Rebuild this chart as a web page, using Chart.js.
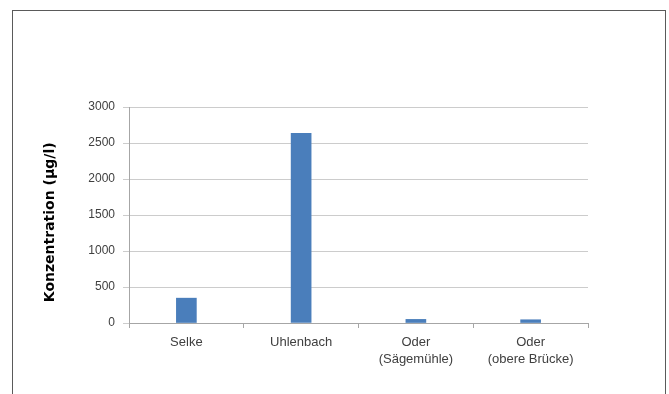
<!DOCTYPE html>
<html>
<head>
<meta charset="utf-8">
<script src="https://cdn.jsdelivr.net/npm/chart.js@4/dist/chart.umd.min.js"></script>
<style>
  html, body { margin: 0; padding: 0; background: #fff; }
  #wrap { position: relative; width: 669px; height: 394px; overflow: hidden; }
  #frame { position: absolute; left: 12px; top: 10px; width: 654px; height: 400px; border: 1px solid #5a5a5a; box-sizing: border-box; pointer-events: none; }
  canvas { position: absolute; left: 0; top: 0; }
</style>
</head>
<body>
<div id="wrap">
  <canvas id="c" width="669" height="394"></canvas>
  <div id="frame"></div>
</div>
<script>
const categories = [["Selke"], ["Uhlenbach"], ["Oder", "(Sägemühle)"], ["Oder", "(obere Brücke)"]];
const concentrations = [345, 2635, 50, 45];
const yTicks = [0, 500, 1000, 1500, 2000, 2500, 3000];
const yTitle = "Konzentration (µg/l)";

const FONT = "'Liberation Sans', Arial, sans-serif";

new Chart(document.getElementById('c'), {
  type: 'bar',
  data: {
    labels: categories,
    datasets: [{
      data: concentrations,
      backgroundColor: '#4a7ebb',
      borderWidth: 0,
      barThickness: 20
    }]
  },
  options: {
    responsive: false,
    animation: false,
    devicePixelRatio: 1,
    layout: { padding: { left: 42, right: 81, top: 107, bottom: 26 } },
    plugins: { legend: { display: false }, tooltip: { enabled: false } },
    scales: {
      x: {
        offset: true,
        grid: { display: true, drawOnChartArea: false, drawTicks: true, tickLength: 5, offset: true, color: '#a6a6a6' },
        border: { display: true, color: '#a6a6a6' },
        ticks: { color: '#404040', padding: 6, maxRotation: 0, autoSkip: false,
                 font: { family: FONT, size: 13, lineHeight: 1.3 } },
        afterFit: s => { s.height = 45; }
      },
      y: {
        min: 0, max: 3000,
        afterBuildTicks: s => { s.ticks = yTicks.map(v => ({ value: v })); },
        grid: { color: '#cccccc', lineWidth: 1, tickLength: 6, drawTicks: true },
        border: { display: true, color: '#a6a6a6' },
        ticks: { color: '#404040', padding: 8, font: { family: FONT, size: 12 },
                 callback: v => String(v) },
        title: { display: true, text: yTitle + "\u00a0\u00a0\u00a0", color: '#000', padding: { top: 0, bottom: 0 },
                 font: { family: "'DejaVu Sans', sans-serif", size: 14, weight: 'bold', lineHeight: 1.2 } },
        afterFit: s => { s.width = 87; }
      }
    }
  }
});
</script>
</body>
</html>
